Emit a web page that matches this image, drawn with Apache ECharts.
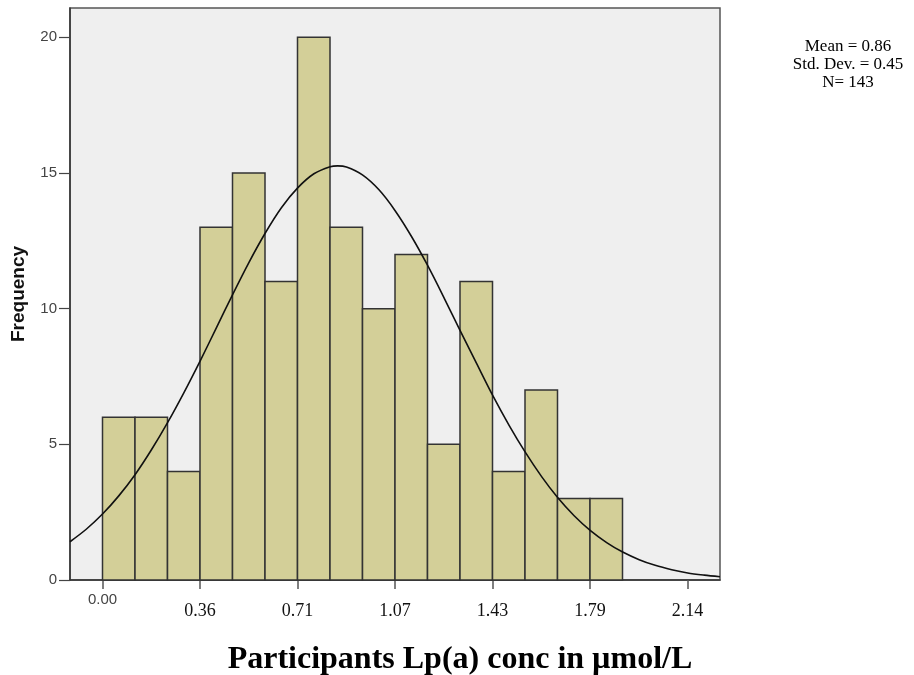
<!DOCTYPE html>
<html>
<head>
<meta charset="utf-8">
<script src="https://cdn.jsdelivr.net/npm/echarts@6/dist/echarts.min.js"></script>
<style>
html,body{margin:0;padding:0;background:#fff;}
#chart{width:914px;height:675px;}
</style>
</head>
<body>
<div id="chart"></div>
<script>
// ---- data ----
const binWidth = 0.1189;
const binStarts = [0.0000, 0.1189, 0.2378, 0.3567, 0.4756, 0.5945, 0.7134, 0.8323, 0.9512, 1.0701, 1.1890, 1.3079, 1.4268, 1.5457, 1.6646, 1.7835];
const counts = [6, 6, 4, 13, 15, 11, 20, 13, 10, 12, 5, 11, 4, 7, 3, 3];
const tickValues = [0, 0.3567, 0.7134, 1.0701, 1.4268, 1.7835, 2.1402];
const tickLabels = ["0.00", "0.36", "0.71", "1.07", "1.43", "1.79", "2.14"];
const yTicks = [0, 5, 10, 15, 20];
// fitted normal curve
const curveX = [-0.119, -0.0595, 0.000, 0.0595, 0.119, 0.1785, 0.238, 0.2975, 0.357, 0.4165, 0.476, 0.5355, 0.595, 0.6545, 0.714, 0.7735, 0.833, 0.860, 0.8925, 0.951, 1.0115, 1.070, 1.1305, 1.189, 1.2495, 1.308, 1.3685, 1.427, 1.4875, 1.546, 1.6065, 1.665, 1.7255, 1.784, 1.8445, 1.903, 1.9635, 2.022, 2.0825, 2.141, 2.2015, 2.259];
const curveY = [1.41, 1.87, 2.43, 3.10, 3.88, 4.79, 5.80, 6.90, 8.07, 9.29, 10.52, 11.70, 12.78, 13.72, 14.45, 14.97, 15.23, 15.26, 15.22, 14.93, 14.38, 13.62, 12.66, 11.60, 10.40, 9.20, 7.98, 6.81, 5.70, 4.72, 3.81, 3.04, 2.37, 1.83, 1.38, 1.03, 0.75, 0.54, 0.38, 0.26, 0.18, 0.12];
const statsLines = ["Mean = 0.86", "Std. Dev. = 0.45", "N= 143"];
const xTitle = "Participants Lp(a) conc in µmol/L";
const yTitle = "Frequency";

const histData = binStarts.map((s, i) => [s, s + binWidth, counts[i]]);
const curveData = curveX.map((x, i) => [x, curveY[i]]);

const chart = echarts.init(document.getElementById('chart'), null, {renderer: 'canvas'});
chart.setOption({
  animation: false,
  backgroundColor: '#ffffff',
  title: {
    text: xTitle,
    left: 455,
    top: 639,
    textAlign: 'center',
    textStyle: {fontFamily: 'Liberation Serif', fontWeight: 'bold', fontSize: 32, color: '#000'}
  },
  graphic: [{
    type: 'text',
    x: 848,
    y: 38,
    style: {
      text: statsLines.join('\n'),
      fontFamily: 'Liberation Serif',
      fontSize: 17,
      lineHeight: 18,
      fill: '#000',
      align: 'center',
      verticalAlign: 'top'
    }
  }],
  grid: {
    left: 70, right: 194, top: 8, bottom: 95,
    show: true,
    backgroundColor: '#efefef',
    borderColor: '#555',
    borderWidth: 1.5
  },
  xAxis: {
    type: 'value',
    min: -binWidth,
    max: 19 * binWidth,
    splitLine: {show: false},
    axisLine: {show: true, onZero: false, lineStyle: {color: '#333', width: 1.5}},
    axisTick: {show: true, length: 9, lineStyle: {color: '#555', width: 1.5}, customValues: tickValues},
    axisLabel: {
      customValues: tickValues,
      margin: 4,
      formatter: function (v) {
        let idx = 0, best = 1e9;
        tickValues.forEach((t, i) => { if (Math.abs(t - v) < best) { best = Math.abs(t - v); idx = i; } });
        return idx === 0 ? '{a|' + tickLabels[idx] + '}' : '{b|' + tickLabels[idx] + '}';
      },
      rich: {
        a: {fontFamily: 'Liberation Sans', fontSize: 15, color: '#444', padding: [8, 0, 0, 0]},
        b: {fontFamily: 'Liberation Serif', fontSize: 18, color: '#111', padding: [18, 0, 0, 0]}
      }
    }
  },
  yAxis: {
    type: 'value',
    min: 0,
    max: 21.08,
    name: yTitle,
    nameLocation: 'middle',
    nameGap: 42,
    nameTextStyle: {fontFamily: 'Liberation Sans', fontWeight: 'bold', fontSize: 19, color: '#111'},
    splitLine: {show: false},
    axisLine: {show: true, onZero: false, lineStyle: {color: '#333', width: 1.5}},
    axisTick: {show: true, length: 11, lineStyle: {color: '#444', width: 1.2}, customValues: yTicks},
    axisLabel: {
      customValues: yTicks,
      margin: 13,
      fontFamily: 'Liberation Sans',
      fontSize: 15,
      color: '#444'
    }
  },
  series: [{
    type: 'custom',
    data: histData,
    encode: {x: [0, 1], y: 2},
    z: 2,
    renderItem: function (params, api) {
      const p0 = api.coord([api.value(0), api.value(2)]);
      const p1 = api.coord([api.value(1), 0]);
      return {
        type: 'rect',
        shape: {x: p0[0], y: p0[1], width: p1[0] - p0[0], height: p1[1] - p0[1]},
        style: {fill: '#d3cf98', stroke: '#333', lineWidth: 1.5}
      };
    }
  }, {
    type: 'line',
    data: curveData,
    smooth: 0.3,
    symbol: 'none',
    z: 3,
    clip: true,
    lineStyle: {color: '#111', width: 1.6}
  }]
});
</script>
</body>
</html>
